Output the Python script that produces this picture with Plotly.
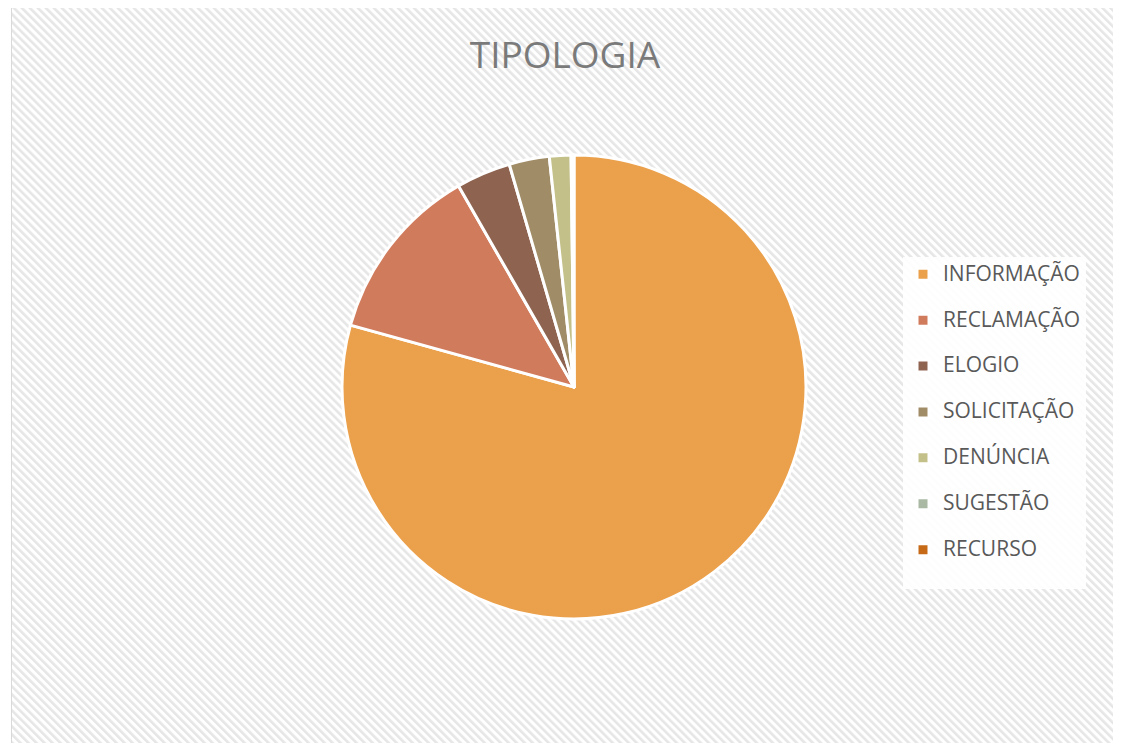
import base64
import plotly.graph_objects as go

# ---- data ----
categories = ["INFORMAÇÃO", "RECLAMAÇÃO", "ELOGIO", "SOLICITAÇÃO", "DENÚNCIA", "SUGESTÃO", "RECURSO"]
values = [79.3, 12.4, 3.8, 2.8, 1.5, 0.1, 0.1]
colors = ["#EBA04B", "#D17B5D", "#8E6350", "#A08C66", "#C4C08A", "#A9B9A3", "#C66A18"]
title_text = "TIPOLOGIA"

W, H = 1121, 743
OFF = 8  # page body margin: screen px -> figure px


def fx(px):
    return (px - OFF) / W


def fy(py):
    return 1 - (py - OFF) / H


# ---- striped background as inline svg ----
bw_px, bh_px = 1105, 743
svg = f'''<svg xmlns="http://www.w3.org/2000/svg" width="{bw_px}" height="{bh_px}">
<defs><pattern id="p" width="5.66" height="5.66" patternUnits="userSpaceOnUse" patternTransform="rotate(-45)">
<rect width="5.66" height="5.66" fill="#ffffff"/><rect width="2.6" height="5.66" fill="#e6e6e6"/></pattern></defs>
<rect width="{bw_px}" height="{bh_px}" fill="url(#p)"/></svg>'''
bg_src = "data:image/svg+xml;base64," + base64.b64encode(svg.encode()).decode()

# pie geometry (screen pixels)
cx, cy, r = 574, 387, 232
dom_x = [fx(cx - r), fx(cx + r)]
dom_y = [fy(cy + r), fy(cy - r)]

legend_labels = [f'<span style="font-size:21px">{c}</span><br> ' for c in categories]

fig = go.Figure(go.Pie(
    labels=legend_labels,
    values=values,
    sort=False,
    direction="clockwise",
    rotation=0,
    marker=dict(colors=colors, line=dict(color="#ffffff", width=3)),
    textinfo="none",
    hoverinfo="percent",
    domain=dict(x=dom_x, y=dom_y),
))

fig.update_layout(
    width=W, height=H,
    margin=dict(l=0, r=0, t=0, b=0),
    paper_bgcolor="#ffffff",
    plot_bgcolor="rgba(0,0,0,0)",
    font=dict(family="Open Sans, sans-serif", color="#595959"),
    title=dict(text=title_text, x=fx(565), xanchor="center", y=fy(55), yanchor="middle",
               font=dict(size=37, color="#7a7a7a", family="Open Sans, sans-serif")),
    showlegend=True,
    legend=dict(
        x=fx(903), xanchor="left",
        y=fy(257), yanchor="top",
        font=dict(size=16.5, color="#595959"),
        valign="top",
        bgcolor="rgba(255,255,255,0.9)",
        borderwidth=0,
    ),
    images=[dict(source=bg_src, xref="paper", yref="paper",
                 x=fx(12), y=1, sizex=bw_px / W, sizey=bh_px / H,
                 xanchor="left", yanchor="top", sizing="stretch", layer="below")],
    shapes=[dict(type="rect", xref="paper", yref="paper",
                 x0=fx(11.5), x1=fx(1116.5), y0=-0.01, y1=1.01,
                 line=dict(color="#d9d9d9", width=1), fillcolor="rgba(0,0,0,0)", layer="below")],
)

fig.write_html("out.html")
